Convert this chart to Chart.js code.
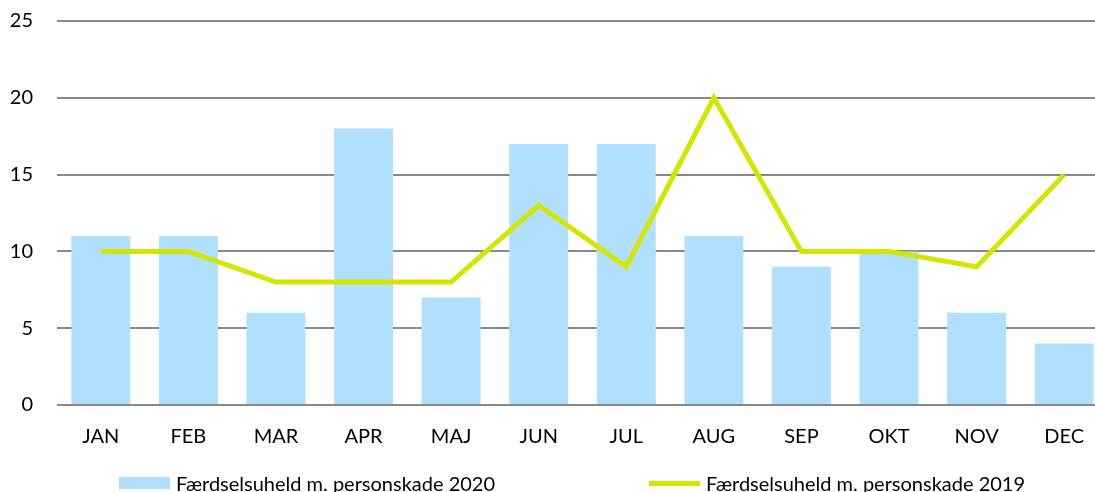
<!DOCTYPE html>
<html>
<head>
<meta charset="utf-8">
<script src="https://cdn.jsdelivr.net/npm/chart.js@4/dist/chart.umd.min.js"></script>
<style>
    html, body { margin: 0; padding: 0; background: #fff; overflow: hidden; }
    #wrap { position: relative; width: 1095px; height: 492px; overflow: hidden; }
    #chart { position: absolute; left: 0; top: 0; }
    .legend-item { position: absolute; display: flex; align-items: center; font-family: Lato, sans-serif; font-size: 20px; color: #000; white-space: nowrap; }
    .legend-swatch { display: inline-block; width: 51px; margin-right: 6px; }
</style>
</head>
<body>
<div id="wrap">
    <canvas id="chart" width="1108" height="492"></canvas>
    <div id="legend"></div>
</div>
<script>
// data
const months = ['JAN', 'FEB', 'MAR', 'APR', 'MAJ', 'JUN', 'JUL', 'AUG', 'SEP', 'OKT', 'NOV', 'DEC'];
const accidents2020 = [11, 11, 6, 18, 7, 17, 17, 11, 9, 10, 6, 4];
const accidents2019 = [10, 10, 8, 8, 8, 13, 9, 20, 10, 10, 9, 15];
const yTicks = [0, 5, 10, 15, 20, 25];

const label2020 = 'Færdselsuheld m. personskade 2020';
const label2019 = 'Færdselsuheld m. personskade 2019';

const barColor = '#b0e0fd';
const lineColor = '#d4e600';

const chart = new Chart(document.getElementById('chart').getContext('2d'), {
    type: 'bar',
    data: {
        labels: months,
        datasets: [{
            type: 'line',
            label: label2019,
            data: accidents2019,
            borderColor: lineColor,
            borderWidth: 5,
            pointRadius: 0,
            tension: 0,
            order: 0
        }, {
            type: 'bar',
            label: label2020,
            data: accidents2020,
            backgroundColor: barColor,
            barPercentage: 1,
            categoryPercentage: 0.673,
            order: 1
        }]
    },
    options: {
        responsive: false,
        animation: false,
        layout: {
            padding: { top: 21, bottom: 44, left: 0, right: 0 }
        },
        plugins: {
            legend: { display: false },
            tooltip: { enabled: false }
        },
        scales: {
            x: {
                grid: { display: false, drawTicks: false },
                border: { display: false },
                afterFit: (axis) => { axis.height = 43; },
                ticks: {
                    color: '#000',
                    padding: 20,
                    font: { family: 'Lato', size: 20 }
                }
            },
            y: {
                min: 0,
                max: 25,
                afterBuildTicks: (axis) => {
                    axis.ticks = yTicks.map(v => ({ value: v }));
                },
                afterFit: (axis) => { axis.width = 57; },
                // invisible tick marks give the label gap without extra top padding
                grid: { color: '#898989', lineWidth: 2, drawTicks: true, tickLength: 24, tickColor: 'rgba(0,0,0,0)' },
                border: { display: false },
                ticks: {
                    color: '#000',
                    padding: 0,
                    font: { family: 'Lato', size: 20 }
                }
            }
        }
    }
});

// legend below the chart, spaced like the original
const legendEl = document.getElementById('legend');
const legendItems = [
    { label: label2020, color: barColor, left: 119, swatchH: 12 },
    { label: label2019, color: lineColor, left: 649, swatchH: 5 }
];
legendItems.forEach(item => {
    const div = document.createElement('div');
    div.className = 'legend-item';
    div.style.left = item.left + 'px';
    div.style.top = '470px';
    div.style.height = '26px';
    const sw = document.createElement('span');
    sw.className = 'legend-swatch';
    sw.style.height = item.swatchH + 'px';
    sw.style.background = item.color;
    div.appendChild(sw);
    div.appendChild(document.createTextNode(item.label));
    legendEl.appendChild(div);
});
</script>
</body>
</html>
